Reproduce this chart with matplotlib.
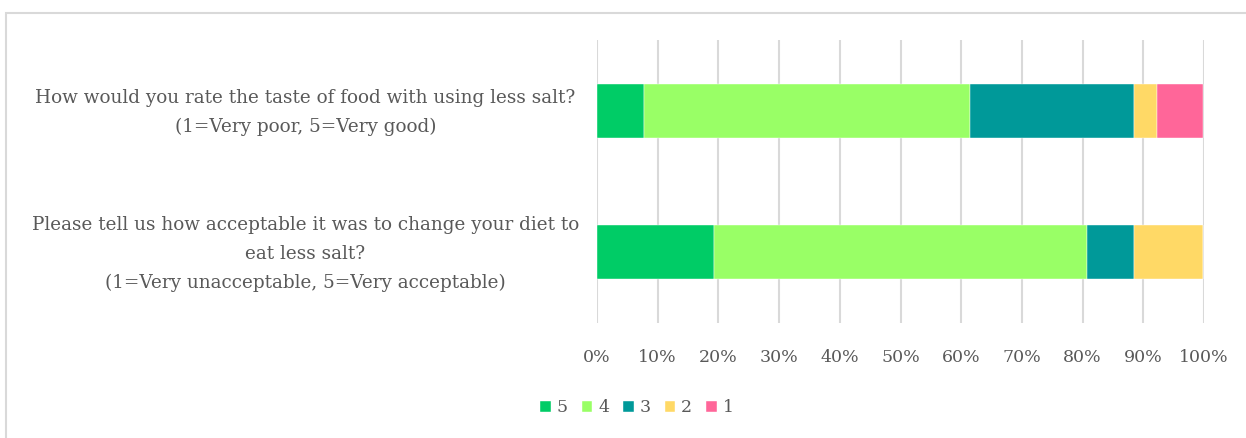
import matplotlib
matplotlib.use('Agg')
import matplotlib.pyplot as plt
from matplotlib.patches import Rectangle
from matplotlib.transforms import ScaledTranslation
import numpy as np

questions = [
    "How would you rate the taste of food with using less salt?\n(1=Very poor, 5=Very good)",
    "Please tell us how acceptable it was to change your diet to\neat less salt?\n(1=Very unacceptable, 5=Very acceptable)",
]
ratings = ['5', '4', '3', '2', '1']
# share of responses (%) per rating, one list per question
pct_q1 = [7.7, 53.8, 26.9, 3.8, 7.7]
pct_q2 = [19.2, 61.5, 7.7, 11.5, 0.0]
colors = ['#00CC66', '#99FF66', '#009999', '#FFD966', '#FF6699']
ticks = [0, 10, 20, 30, 40, 50, 60, 70, 80, 90, 100]

plt.rcParams['font.family'] = ['DejaVu Serif']
txt = '#595959'

fig = plt.figure(figsize=(12.46, 4.38), dpi=100)
fig.patches.append(Rectangle((6 / 1246, -0.1), 1.2, 1.1 - 13 / 438,
                             transform=fig.transFigure, fill=False,
                             edgecolor='#D9D9D9', linewidth=1.5))

ax = fig.add_axes([597 / 1246, 1 - 323 / 438, 607 / 1246, 283 / 438])

data = np.array([pct_q1, pct_q2])
y = np.arange(len(questions))
left = np.zeros(len(questions))
for i, r in enumerate(ratings):
    ax.barh(y, data[:, i], left=left, height=0.385, color=colors[i],
            label=r, zorder=3, edgecolor='white', linewidth=0.3)
    left += data[:, i]

ax.set_xlim(0, 100)
ax.set_ylim(1.5, -0.5)
ax.set_xticks(ticks)
ax.set_xticklabels([f'{t}%' for t in ticks], fontsize=12.5, color=txt)
ax.set_yticks(y)
ax.set_yticklabels(questions, fontsize=13.2, color=txt, ha='center',
                   linespacing=1.75)
ax.tick_params(axis='y', length=0, pad=210)
ax.tick_params(axis='x', length=0, pad=18.5)
# nudge the question labels up a little
shift = ScaledTranslation(0, 0.055, fig.dpi_scale_trans)
for lab in ax.get_yticklabels():
    lab.set_transform(lab.get_transform() + shift)
ax.grid(axis='x', color='#D9D9D9', linewidth=1.5, zorder=0)
for s in ax.spines.values():
    s.set_visible(False)

leg = fig.legend(loc='center', bbox_to_anchor=(637 / 1246, 1 - 408 / 438),
                 ncol=5, frameon=False, fontsize=12.5, handlelength=0.6,
                 handleheight=0.6, handletextpad=0.35, columnspacing=0.8)
for t in leg.get_texts():
    t.set_color(txt)

fig.savefig('out.png', dpi=100)
